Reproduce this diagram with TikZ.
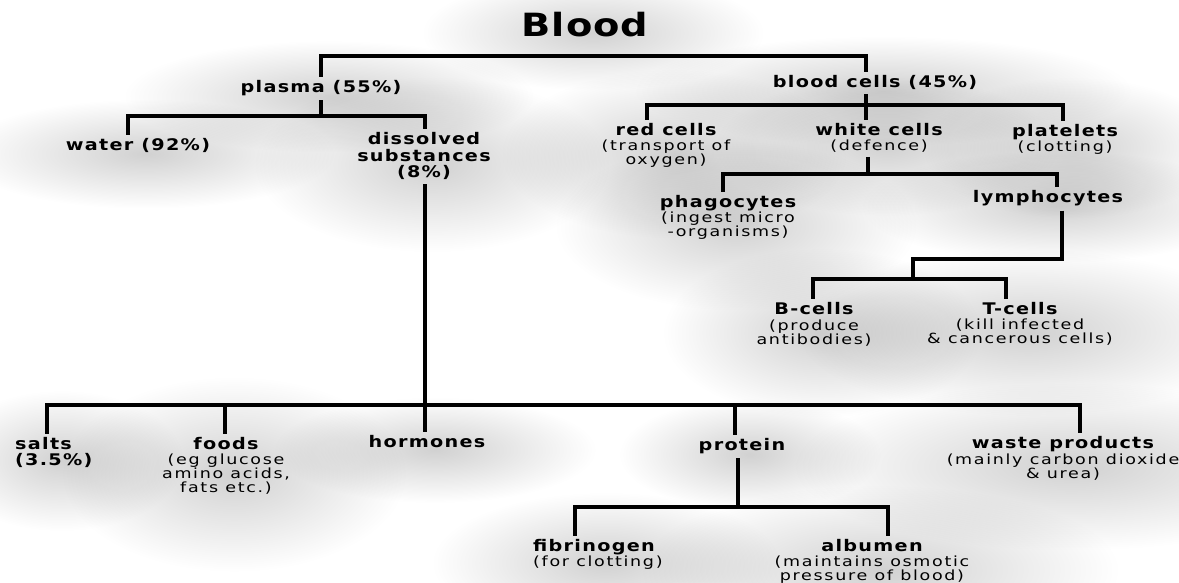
\documentclass[tikz,border=0pt]{standalone}
\usepackage{fontspec}
\usetikzlibrary{calc,fadings}
\newfontfamily\regfam[FakeStretch=1.25,LetterSpace=12]{DejaVu Sans}
\newfontfamily\boldfam[FakeStretch=1.2,LetterSpace=8]{DejaVu Sans}
\newfontfamily\titlefam[FakeStretch=1.2,LetterSpace=3]{DejaVu Sans}
\newcommand\NodeBold{\boldfam\bfseries\fontsize{16}{16.5}\selectfont\lineskiplimit=-10pt}
\newcommand\NodeReg{\regfam\fontsize{14}{14}\selectfont\lineskiplimit=-10pt}
\newcommand\NodeTitle{\titlefam\bfseries\fontsize{32}{36}\selectfont}
\tikzfading[name=glowfade,inner color=transparent!0,outer color=transparent!100]
\pgfdeclarelayer{background}
\pgfsetlayers{background,main}
\newcommand\glowfill[1]{\fill[black,opacity=0.18,path fading=glowfade]
  ($(#1.center)!2!(#1.south west)+(-36pt,-40pt)$) rectangle
  ($(#1.center)!2!(#1.north east)+(52pt,24pt)$);}
\begin{document}
\begin{tikzpicture}[x=1pt,y=-1pt,
  bar/.style={line width=3.2pt,line join=miter},
  lbl/.style={font=\NodeBold,align=center,inner xsep=0pt,inner ysep=4pt,anchor=north,yshift=2pt},
  lblsub/.style={font=\NodeReg,align=center,inner xsep=0pt,inner ysep=4pt,anchor=north,yshift=2pt},
  lblleft/.style={font=\NodeReg,align=left,inner xsep=0pt,inner ysep=4pt,anchor=north west,yshift=2pt}]
\useasboundingbox (0,0) rectangle (1179,582);

% title
\node[font=\NodeTitle,inner sep=0pt] (blood) at (585,25) {Blood};

% level 1
\node[lbl] (plasma) at (321,78.5) {plasma (55\%)};
\node[lbl] (cells) at (875,73.5) {blood cells (45\%)};

% plasma children
\node[lbl] (water) at (138,136.5) {water (92\%)};
\node[lbl] (diss) at (424,130.5) {dissolved\\substances\\(8\%)};

% blood cell children
\node[lblsub] (red) at (666,121.5) {{\NodeBold red cells}\\[1pt](transport of\\oxygen)};
\node[lblsub] (white) at (879,121.5) {{\NodeBold white cells}\\[1pt](defence)};
\node[lblsub] (plate) at (1065,122.5) {{\NodeBold platelets}\\[1pt](clotting)};

% white cell children
\node[lblsub] (phago) at (728,193.5) {{\NodeBold phagocytes}\\[1pt](ingest micro\\-organisms)};
\node[lbl] (lymph) at (1048,188.5) {lymphocytes};

% lymphocyte children
\node[lblsub] (bcell) at (814,300.5) {{\NodeBold B-cells}\\[2pt](produce\\antibodies)};
\node[lblsub] (tcell) at (1020,300.5) {{\NodeBold T-cells}\\[1pt](kill infected\\\& cancerous cells)};

% dissolved substances children
\node[lbl,align=left,anchor=north west] (salts) at (15,435.5) {salts\\[-1pt](3.5\%)};
\node[lblsub] (foods) at (226,435.5) {{\NodeBold foods}\\[1pt](eg glucose\\amino acids,\\fats etc.)};
\node[lbl] (horm) at (427,433.5) {hormones};
\node[lbl] (prot) at (742,436.5) {protein};
\node[lblsub] (waste) at (1063,434.5) {{\NodeBold waste products}\\[1.5pt](mainly carbon dioxide\\\& urea)};

% protein children
\node[lblleft] (fib) at (533,537.5) {{\NodeBold fibrinogen}\\[1pt](for clotting)};
\node[lblsub] (alb) at (872,537.5) {{\NodeBold albumen}\\[1pt](maintains osmotic\\pressure of blood)};

% junctions
\coordinate (j0) at (585,56);
\coordinate (j1) at (321,116);
\coordinate (j2) at (866,105);
\coordinate (j3) at (868,174);
\coordinate (j4) at (913,259);
\coordinate (j5) at (913,279);
\coordinate (jb) at (425,405);
\coordinate (j6) at (738,507);

% connectors
\draw[bar] (j0) -| (plasma.north);
\draw[bar] (j0) -| ([xshift=-9pt]cells.north);

\draw[bar] (plasma.south) -- (j1);
\draw[bar] (j1) -| ([xshift=-10pt]water.north);
\draw[bar] (j1) -| ([xshift=1pt]diss.north);

\draw[bar] ([xshift=-9pt]cells.south) -- (j2);
\draw[bar] (j2) -| ([xshift=-19pt]red.north);
\draw[bar] (j2) -- ([xshift=-13pt]white.north);
\draw[bar] (j2) -| ([xshift=-2pt]plate.north);

\draw[bar] ([xshift=-11pt]white.south) -- (j3);
\draw[bar] (j3) -| ([xshift=-5pt]phago.north);
\draw[bar] (j3) -| ([xshift=9pt]lymph.north);

\draw[bar] ([xshift=14pt]lymph.south) |- (j4) -- (j5);
\draw[bar] (j5) -| ([xshift=-1pt]bcell.north);
\draw[bar] (j5) -| ([xshift=-14pt]tcell.north);

\draw[bar] ([xshift=1pt]diss.south) -- ([xshift=-2pt]horm.north);
\draw[bar] (jb) -| ([xshift=32pt]salts.north west);
\draw[bar] (jb) -| ([xshift=-1pt]foods.north);
\draw[bar] (jb) -| ([xshift=-7pt]prot.north);
\draw[bar] (jb) -| ([xshift=17pt]waste.north);

\draw[bar] ([xshift=-4pt]prot.south) -- (j6);
\draw[bar] (j6) -| ([xshift=42pt]fib.north west);
\draw[bar] (j6) -| ([xshift=16pt]alb.north);

% soft grey glow behind the labels
\begin{pgfonlayer}{background}
  \fill[white] (0,0) rectangle (1179,582);
  \foreach \n in {blood,plasma,cells,water,diss,red,white,plate,phago,lymph,
                  bcell,tcell,salts,foods,horm,prot,waste,fib,alb}
    {\glowfill{\n}}
\end{pgfonlayer}
\end{tikzpicture}
\end{document}
